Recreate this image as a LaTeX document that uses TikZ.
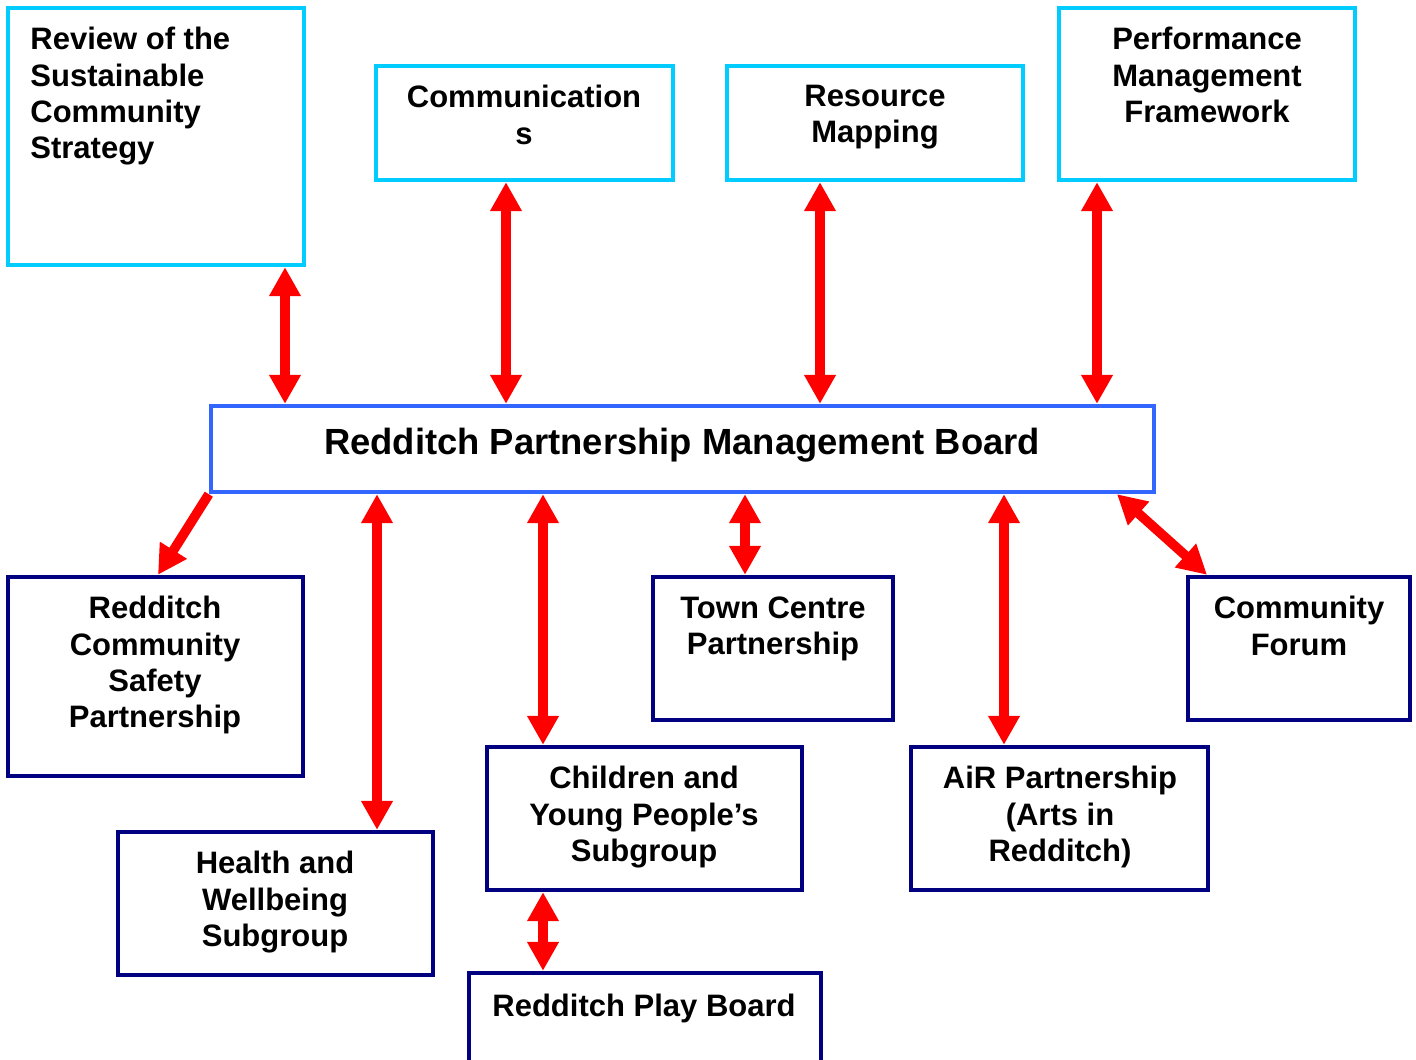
\documentclass[tikz,border=0pt]{standalone}
\usepackage{fontspec}
\setmainfont{Liberation Sans}
\usetikzlibrary{arrows.meta}
\definecolor{cyanbox}{RGB}{0,204,255}
\definecolor{boardblue}{RGB}{51,102,255}
\definecolor{navybox}{RGB}{0,0,128}
\definecolor{arrowred}{RGB}{255,0,0}
\begin{document}
\begin{tikzpicture}[x=0.5pt,y=-0.5pt,
  topbox/.style={draw=cyanbox,line width=2.2pt,rectangle,inner sep=0pt,fill=white},
  boardbox/.style={draw=boardblue,line width=2.2pt,rectangle,inner sep=0pt,fill=white},
  subbox/.style={draw=navybox,line width=2.2pt,rectangle,inner sep=0pt,fill=white},
  txt/.style={inner sep=0pt,align=center,font=\fontsize{15.5}{18.1}\selectfont\bfseries,anchor=north},
  bigtxt/.style={inner sep=0pt,font=\fontsize{18.2}{21}\selectfont\bfseries,anchor=north},
  dbl/.style={draw=arrowred,line width=4.8pt,{Triangle[length=14.5pt,width=15pt]}-{Triangle[length=14.5pt,width=15pt]}},
  sgl/.style={draw=arrowred,line width=4.8pt,-{Triangle[length=14.5pt,width=15pt]}}]
\clip (0,0) rectangle (1416,1059);
\fill[white] (0,0) rectangle (1416,1059);
% top boxes
\node[topbox,minimum width=148pt,minimum height=128.5pt] (rev) at (156,136.5) {};
\node[topbox,minimum width=148.5pt,minimum height=57pt] (comm) at (524.5,123) {};
\node[topbox,minimum width=148pt,minimum height=57pt] (res) at (875,123) {};
\node[topbox,minimum width=148pt,minimum height=86pt] (perf) at (1207,94) {};
% board
\node[boardbox,minimum width=471.5pt,minimum height=43pt] (board) at (682.5,449) {};
% sub boxes
\node[subbox,minimum width=147.5pt,minimum height=99.5pt] (rcsp) at (155.5,676.5) {};
\node[subbox,minimum width=157.5pt,minimum height=71.5pt] (health) at (275.5,903.5) {};
\node[subbox,minimum width=157.5pt,minimum height=71.5pt] (cyp) at (644.5,818.5) {};
\node[subbox,minimum width=120pt,minimum height=71.5pt] (town) at (773,648.5) {};
\node[subbox,minimum width=148.5pt,minimum height=71.5pt] (air) at (1059.5,818.5) {};
\node[subbox,minimum width=111pt,minimum height=71.5pt] (forum) at (1299,648.5) {};
\node[subbox,minimum width=176pt,minimum height=64.5pt] (play) at (645,1037.5) {};
% texts
\node[txt,anchor=north west,align=left] (trev) at (30,27) {Review of the\\Sustainable\\Community\\Strategy};
\node[txt] (tcomm) at (524,85) {Communication\\s};
\node[txt] (tres) at (875,85) {Resource\\Mapping};
\node[txt] (tperf) at (1207,27) {Performance\\Management\\Framework};
\node[bigtxt] (tboard) at (682,428) {Redditch Partnership Management Board};
\node[txt] (trcsp) at (155,596) {Redditch\\Community\\Safety\\Partnership};
\node[txt] (thealth) at (275,851) {Health and\\Wellbeing\\Subgroup};
\node[txt] (tcyp) at (644,766) {Children and\\Young People’s\\Subgroup};
\node[txt] (ttown) at (773,596) {Town Centre\\Partnership};
\node[txt] (tair) at (1060,766) {AiR Partnership\\(Arts in\\Redditch)};
\node[txt] (tforum) at (1299,596) {Community\\Forum};
\node[txt] (tplay) at (644,994) {Redditch Play Board};
% arrow columns
\coordinate (xrev) at (285,0);
\coordinate (xcomm) at (506,0);
\coordinate (xres) at (820,0);
\coordinate (xperf) at (1097,0);
\coordinate (xrcsp) at (158,0);
\coordinate (xhealth) at (377,0);
\coordinate (xcyp) at (543,0);
\coordinate (xtown) at (745,0);
\coordinate (xair) at (1004,0);
\coordinate (xforumA) at (1117,0);
\coordinate (xforumB) at (1207,0);
% connectors
\draw[dbl] (rev.south -| xrev) -- (board.north -| xrev);
\draw[dbl] (comm.south -| xcomm) -- (board.north -| xcomm);
\draw[dbl] (res.south -| xres) -- (board.north -| xres);
\draw[dbl] (perf.south -| xperf) -- (board.north -| xperf);
\draw[sgl] (board.south west) -- (rcsp.north -| xrcsp);
\draw[dbl] (board.south -| xhealth) -- (health.north -| xhealth);
\draw[dbl] (board.south -| xcyp) -- (cyp.north -| xcyp);
\draw[dbl] (board.south -| xtown) -- (town.north -| xtown);
\draw[dbl] (board.south -| xair) -- (air.north -| xair);
\draw[dbl] (board.south -| xforumA) -- (forum.north -| xforumB);
\draw[dbl] (cyp.south -| xcyp) -- (play.north -| xcyp);
\end{tikzpicture}
\end{document}
